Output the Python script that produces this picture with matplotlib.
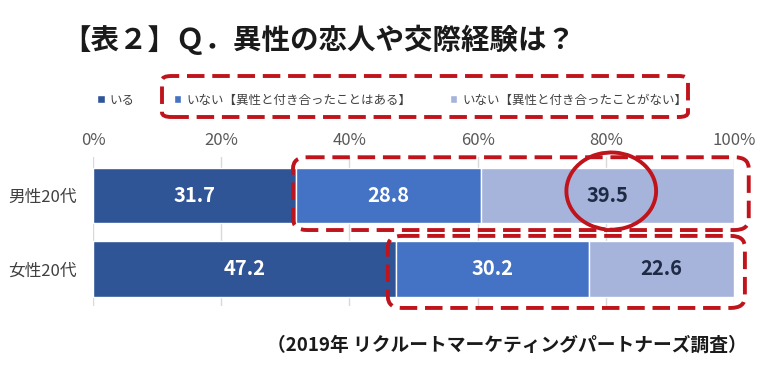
import matplotlib.pyplot as plt
import numpy as np
from matplotlib.patches import FancyBboxPatch, Arc

plt.rcParams['font.family'] = ['Noto Sans CJK JP', 'DejaVu Sans']

# data
groups = ["男性20代", "女性20代"]
series_names = ["いる", "いない【異性と付き合ったことはある】", "いない【異性と付き合ったことがない】"]
has_partner = [31.7, 47.2]
had_before = [28.8, 30.2]
never = [39.5, 22.6]
xticks = [0, 20, 40, 60, 80, 100]

colors = ["#2f5597", "#4472c4", "#a6b4dc"]
label_colors = ["white", "white", "#1f2a44"]
red = "#c0141c"

fig = plt.figure(figsize=(7.8, 3.72), dpi=100)
ax = fig.add_axes([93 / 780, 1 - 305.75 / 372, 641 / 780, 148.5 / 372])

y = np.arange(len(groups))
left = np.zeros(len(groups))
bars = []
for vals, c, lc, name in zip([has_partner, had_before, never], colors, label_colors, series_names):
    b = ax.barh(y, vals, left=left, height=0.75, color=c, edgecolor="white",
                linewidth=1, label=name, zorder=2)
    bars.append(b)
    for yi, (l, v) in enumerate(zip(left, vals)):
        ax.text(l + v / 2, yi, f"{v:.1f}", ha="center", va="center",
                color=lc, fontsize=14.5, fontweight="bold", zorder=3)
    left = left + np.array(vals)

ax.set_xlim(0, 100)
ax.set_ylim(1.5, -0.52)
ax.set_yticks(y)
ax.set_yticklabels(groups, fontsize=12, color="#404040")
ax.set_xticks(xticks)
ax.set_xticklabels([f"{t}%" for t in xticks], fontsize=12, color="#595959")
ax.xaxis.tick_top()
ax.tick_params(length=0, pad=6)
ax.tick_params(axis="y", pad=12)
ax.grid(axis="x", color="#d9d9d9", linewidth=1, zorder=0)
for s in ax.spines.values():
    s.set_visible(False)

leg = fig.legend(handles=bars, labels=series_names, loc="center left",
                 bbox_to_anchor=(86 / 780, 1 - 100 / 372), ncol=3, frameon=False,
                 fontsize=9, handlelength=0.6, handleheight=0.6, handletextpad=0.4,
                 columnspacing=3.1)
for t in leg.get_texts():
    t.set_color("#404040")

# red dashed highlight boxes
dash = (0, (4.5, 2))
box_style = dict(boxstyle="round,pad=0,rounding_size=2.2", fill=False, edgecolor=red,
                 linewidth=2.8, linestyle=dash, zorder=5, clip_on=False)
male_start = has_partner[0]
fem_start = has_partner[1]
ax.add_patch(FancyBboxPatch((male_start - 0.5, -0.52), 102.3 - male_start + 0.5, 0.99,
                            mutation_aspect=0.07, **box_style))
ax.add_patch(FancyBboxPatch((fem_start - 1.2, 0.55), 101.7 - fem_start + 1.2, 0.98,
                            mutation_aspect=0.07, **box_style))
fig.patches.append(FancyBboxPatch((162 / 780, 1 - 117 / 372), 526 / 780, 41 / 372,
                                  boxstyle="round,pad=0,rounding_size=0.012",
                                  transform=fig.transFigure, fill=False, edgecolor=red,
                                  linewidth=2.8, linestyle=dash))

# hand-drawn circle around 39.5
cx = has_partner[0] + had_before[0] + never[0] / 2
ax.add_patch(Arc((cx + 0.6, -0.06), 14, 1.05, theta1=150, theta2=475,
                 color=red, linewidth=2.8, zorder=6, clip_on=False))

fig.text(62 / 780, 1 - 40 / 372, "【表２】Ｑ．異性の恋人や交際経験は？", fontsize=20.5,
         fontweight="bold", color="#1a1a1a", va="center", ha="left")
fig.text(507 / 780, 1 - 345 / 372, "（2019年 リクルートマーケティングパートナーズ調査）",
         fontsize=13.5, fontweight="bold", color="#1a1a1a", va="center", ha="center")

fig.savefig("out.png", dpi=100)
